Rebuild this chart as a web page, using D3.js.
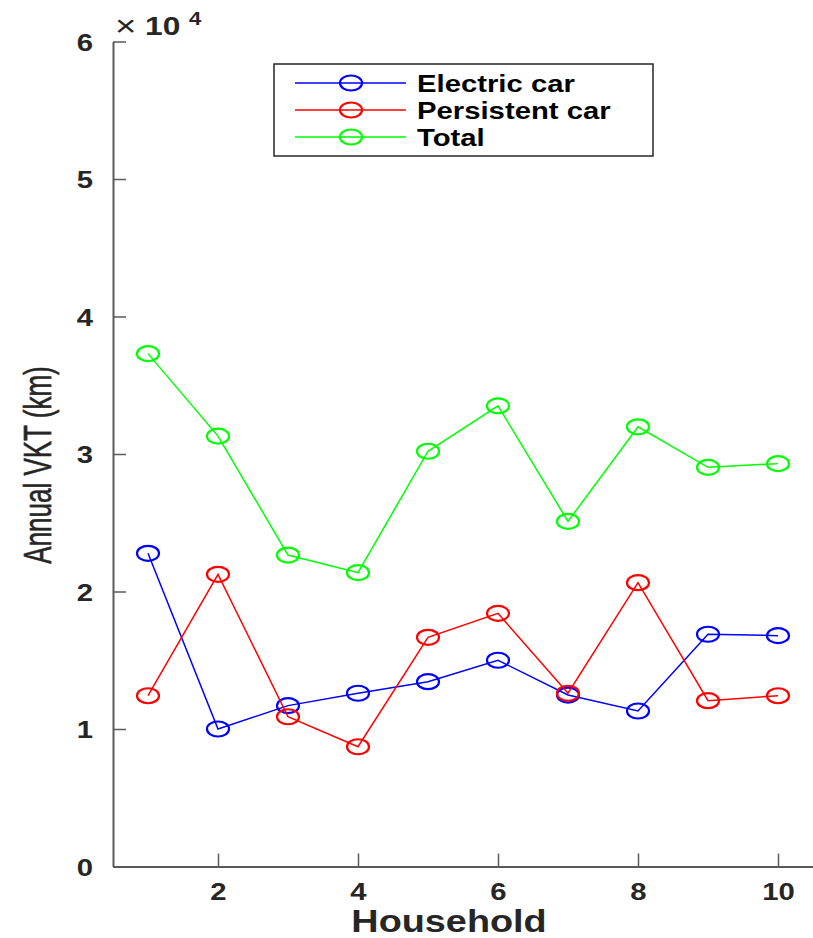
<!DOCTYPE html>
<html>
<head>
<meta charset="utf-8">
<script src="https://cdn.jsdelivr.net/npm/d3@7"></script>
<style>
  html, body { margin: 0; padding: 0; background: #fff; }
  svg { display: block; font-family: "Liberation Sans", Arial, sans-serif; }
</style>
</head>
<body>
<svg id="chart" width="813" height="938"></svg>
<script>
// data, annual VKT in km per household
const households = [1, 2, 3, 4, 5, 6, 7, 8, 9, 10];
const electricCar = [22780, 10000, 11700, 12600, 13440, 15000, 12470, 11310, 16890, 16790];
const persistentCar = [12420, 21250, 10890, 8710, 16670, 18410, 12600, 20640, 12060, 12420];
const totalVkt = [37300, 31300, 22650, 21370, 30200, 33500, 25100, 31980, 29030, 29300];
const xTicks = [2, 4, 6, 8, 10];
const yTicks = [0, 10000, 20000, 30000, 40000, 50000, 60000];
const seriesNames = ['Electric car', 'Persistent car', 'Total'];

const series = [
    { name: seriesNames[0], values: electricCar, color: '#0000ff' },
    { name: seriesNames[1], values: persistentCar, color: '#ff0000' },
    { name: seriesNames[2], values: totalVkt, color: '#00ff00' }
];

const svg = d3.select('#chart');
const sx = 1.22; // the original figure is stretched horizontally
const axisColor = '#5a5a5a';
const textColor = '#262626';

const x = d3.scaleLinear().domain([0.5, 10.5]).range([113, 813]);
const y = d3.scaleLinear().domain([0, 60000]).range([866.5, 41.5]);

// y axis
const yAxis = svg.append('g')
    .attr('transform', `translate(${x.range()[0]},0)`)
    .call(d3.axisLeft(y).tickValues(yTicks).tickSize(-13).tickSizeOuter(0)
        .tickFormat(d => d / 10000));
yAxis.select('.domain').attr('stroke', axisColor).attr('stroke-width', 2);
yAxis.selectAll('.tick line').attr('stroke', axisColor).attr('stroke-width', 1.5);
yAxis.selectAll('.tick text')
    .attr('x', -20 / sx)
    .attr('dy', '0.36em')
    .attr('transform', `scale(${sx},1)`)
    .attr('font-size', 24)
    .attr('font-weight', 'bold')
    .attr('fill', textColor);

// x axis
const xAxis = svg.append('g')
    .attr('transform', `translate(0,${y.range()[0]})`)
    .call(d3.axisBottom(x).tickValues(xTicks).tickSize(-13).tickSizeOuter(0));
xAxis.select('.domain').attr('stroke', axisColor).attr('stroke-width', 2);
xAxis.selectAll('.tick line').attr('stroke', axisColor).attr('stroke-width', 1.5);
xAxis.selectAll('.tick text')
    .attr('y', 34)
    .attr('dy', 0)
    .attr('transform', `scale(${sx},1)`)
    .attr('font-size', 24)
    .attr('font-weight', 'bold')
    .attr('fill', textColor);
svg.selectAll('g').attr('font-family', null);

// exponent label
svg.append('text')
    .attr('transform', `translate(115,36) scale(${sx},1)`)
    .attr('font-size', 30)
    .attr('fill', textColor)
    .text('\u00d7');
svg.append('text')
    .attr('transform', `translate(145,35) scale(${sx},1)`)
    .attr('font-size', 26)
    .attr('font-weight', 'bold')
    .attr('fill', textColor)
    .text('10');
svg.append('text')
    .attr('transform', `translate(189,25) scale(${sx},1)`)
    .attr('font-size', 18)
    .attr('font-weight', 'bold')
    .attr('fill', textColor)
    .text('4');

// axis titles
svg.append('text')
    .attr('transform', `translate(449,932) scale(${sx},1)`)
    .attr('text-anchor', 'middle')
    .attr('font-size', 31)
    .attr('font-weight', 'bold')
    .attr('fill', textColor)
    .text('Household');
svg.append('text')
    .attr('transform', `translate(51,465) scale(1.5,1) rotate(-90)`)
    .attr('text-anchor', 'middle')
    .attr('font-size', 26)
    .attr('fill', textColor)
    .attr('stroke', textColor)
    .attr('stroke-width', 0.4)
    .text('Annual VKT (km)');

// lines and markers
const line = d3.line()
    .x((d, i) => x(households[i]))
    .y(d => y(d));

series.forEach(s => {
    const g = svg.append('g');
    g.append('path')
        .datum(s.values)
        .attr('d', line)
        .attr('fill', 'none')
        .attr('stroke', s.color)
        .attr('stroke-width', 1.5);
    g.selectAll('ellipse')
        .data(s.values)
        .enter()
        .append('ellipse')
        .attr('cx', (d, i) => x(households[i]))
        .attr('cy', d => y(d))
        .attr('rx', 11)
        .attr('ry', 7.5)
        .attr('fill', 'none')
        .attr('stroke', s.color)
        .attr('stroke-width', 2.2);
});

// legend
const legend = svg.append('g');
legend.append('rect')
    .attr('x', 274).attr('y', 64)
    .attr('width', 379).attr('height', 92)
    .attr('fill', '#fff')
    .attr('stroke', textColor)
    .attr('stroke-width', 1.5);
const rowY = [83, 110, 137];
series.forEach((s, i) => {
    const row = legend.append('g').attr('transform', `translate(0,${rowY[i]})`);
    row.append('line')
        .attr('x1', 295).attr('x2', 406)
        .attr('stroke', s.color)
        .attr('stroke-width', 1.5);
    row.append('ellipse')
        .attr('cx', 351).attr('cy', 0)
        .attr('rx', 11).attr('ry', 7.5)
        .attr('fill', 'none')
        .attr('stroke', s.color)
        .attr('stroke-width', 2.2);
    row.append('text')
        .attr('transform', `translate(417,0) scale(${sx},1)`)
        .attr('dy', '0.36em')
        .attr('font-size', 24)
        .attr('font-weight', 'bold')
        .attr('fill', '#000')
        .text(s.name);
});
</script>
</body>
</html>
